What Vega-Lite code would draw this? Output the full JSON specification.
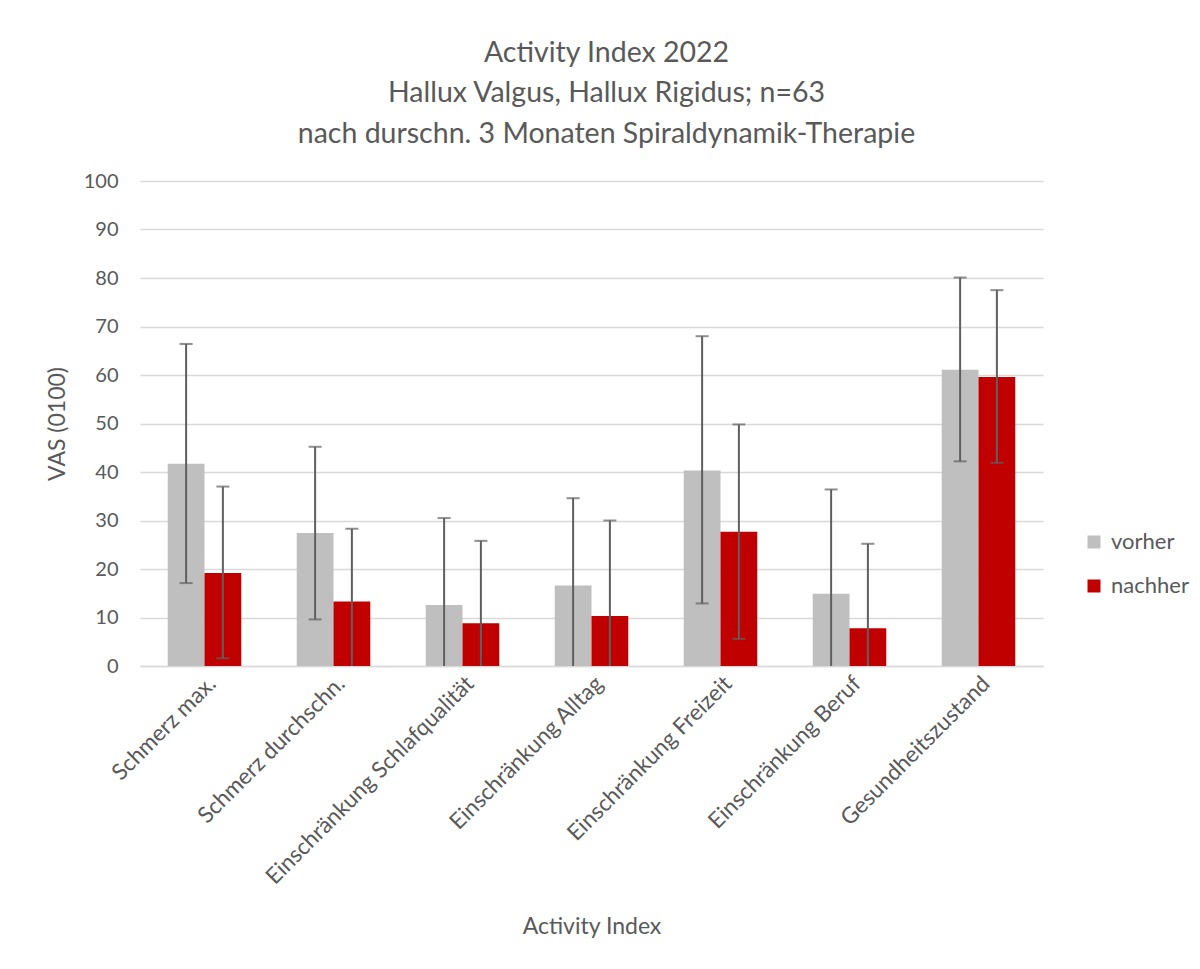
{
  "$schema": "https://vega.github.io/schema/vega-lite/v6.json",
  "width": 903,
  "height": 485,
  "autosize": {"type": "none"},
  "padding": {"left": 140, "top": 181, "right": 157, "bottom": 303},
  "background": "white",
  "title": {
    "text": ["Activity Index 2022", "Hallux Valgus, Hallux Rigidus; n=63", "nach durschn. 3 Monaten Spiraldynamik-Therapie"],
    "font": "Lato",
    "fontSize": 28.5,
    "fontWeight": "normal",
    "color": "#595959",
    "lineHeight": 40.5,
    "anchor": "middle",
    "dx": 15,
    "offset": 23
  },
  "config": {
    "font": "Lato",
    "view": {"stroke": null},
    "axis": {
      "labelFont": "Lato",
      "titleFont": "Lato",
      "labelColor": "#595959",
      "titleColor": "#595959",
      "titleFontWeight": "normal",
      "gridColor": "#d9d9d9",
      "gridWidth": 1.3,
      "ticks": false
    },
    "axisY": {
      "values": [0, 10, 20, 30, 40, 50, 60, 70, 80, 90, 100],
      "labelOverlap": false,
      "title": "VAS (0100)",
      "titleFontSize": 23,
      "titleX": -71,
      "labelFontSize": 20,
      "labelPadding": 22,
      "domain": false
    }
  },
  "data": {
    "values": [
      {"kategorie": "Schmerz max.", "zeitpunkt": "vorher", "mittel": 41.7, "unten": 17.1, "oben": 66.4},
      {"kategorie": "Schmerz max.", "zeitpunkt": "nachher", "mittel": 19.2, "unten": 1.6, "oben": 37.0},
      {"kategorie": "Schmerz durchschn.", "zeitpunkt": "vorher", "mittel": 27.4, "unten": 9.6, "oben": 45.2},
      {"kategorie": "Schmerz durchschn.", "zeitpunkt": "nachher", "mittel": 13.3, "unten": -1.7, "oben": 28.3},
      {"kategorie": "Einschränkung Schlafqualität", "zeitpunkt": "vorher", "mittel": 12.6, "unten": -5.3, "oben": 30.5},
      {"kategorie": "Einschränkung Schlafqualität", "zeitpunkt": "nachher", "mittel": 8.8, "unten": -8.2, "oben": 25.8},
      {"kategorie": "Einschränkung Alltag", "zeitpunkt": "vorher", "mittel": 16.6, "unten": -1.4, "oben": 34.6},
      {"kategorie": "Einschränkung Alltag", "zeitpunkt": "nachher", "mittel": 10.3, "unten": -9.4, "oben": 30.0},
      {"kategorie": "Einschränkung Freizeit", "zeitpunkt": "vorher", "mittel": 40.3, "unten": 12.9, "oben": 68.0},
      {"kategorie": "Einschränkung Freizeit", "zeitpunkt": "nachher", "mittel": 27.7, "unten": 5.6, "oben": 49.8},
      {"kategorie": "Einschränkung Beruf", "zeitpunkt": "vorher", "mittel": 14.9, "unten": -6.6, "oben": 36.4},
      {"kategorie": "Einschränkung Beruf", "zeitpunkt": "nachher", "mittel": 7.8, "unten": -9.6, "oben": 25.2},
      {"kategorie": "Gesundheitszustand", "zeitpunkt": "vorher", "mittel": 61.1, "unten": 42.2, "oben": 80.1},
      {"kategorie": "Gesundheitszustand", "zeitpunkt": "nachher", "mittel": 59.6, "unten": 41.9, "oben": 77.5}
    ]
  },
  "encoding": {
    "x": {
      "field": "kategorie",
      "type": "nominal",
      "sort": null,
      "scale": {"paddingInner": 0.43, "paddingOuter": 0.215},
      "axis": {
        "title": "Activity Index",
        "titleFontSize": 23,
        "titleY": 249,
        "labelAngle": -45,
        "labelFontSize": 22.5,
        "labelPadding": 6,
        "labelLimit": 400,
        "grid": false,
        "domainColor": "#d9d9d9",
        "domainWidth": 1.3
      }
    },
    "xOffset": {
      "field": "zeitpunkt",
      "type": "nominal",
      "sort": ["vorher", "nachher"],
      "scale": {"paddingInner": 0, "paddingOuter": 0}
    }
  },
  "layer": [
    {
      "mark": {"type": "bar"},
      "encoding": {
        "y": {
          "field": "mittel",
          "type": "quantitative",
          "scale": {"domain": [0, 100], "nice": false},
          "title": "VAS (0100)"
        },
        "color": {
          "field": "zeitpunkt",
          "type": "nominal",
          "sort": ["vorher", "nachher"],
          "scale": {"domain": ["vorher", "nachher"], "range": ["#bfbfbf", "#c00000"]},
          "legend": {
            "title": null,
            "orient": "none",
            "legendX": 943,
            "legendY": 350,
            "symbolType": "square",
            "symbolSize": 169,
            "symbolStrokeWidth": 0,
            "labelFontSize": 22,
            "labelColor": "#595959",
            "labelFont": "Lato",
            "rowPadding": 22,
            "labelOffset": 6
          }
        }
      }
    },
    {
      "mark": {"type": "rule", "color": "#5f5f5f", "strokeWidth": 2, "clip": true},
      "encoding": {
        "y": {"field": "unten", "type": "quantitative", "title": "VAS (0100)"},
        "y2": {"field": "oben"}
      }
    },
    {
      "mark": {"type": "tick", "color": "#5f5f5f", "thickness": 2, "size": 13, "clip": true},
      "encoding": {
        "y": {"field": "oben", "type": "quantitative", "title": "VAS (0100)"}
      }
    },
    {
      "mark": {"type": "tick", "color": "#5f5f5f", "thickness": 2, "size": 13, "clip": true},
      "encoding": {
        "y": {"field": "unten", "type": "quantitative", "title": "VAS (0100)"}
      }
    }
  ]
}
